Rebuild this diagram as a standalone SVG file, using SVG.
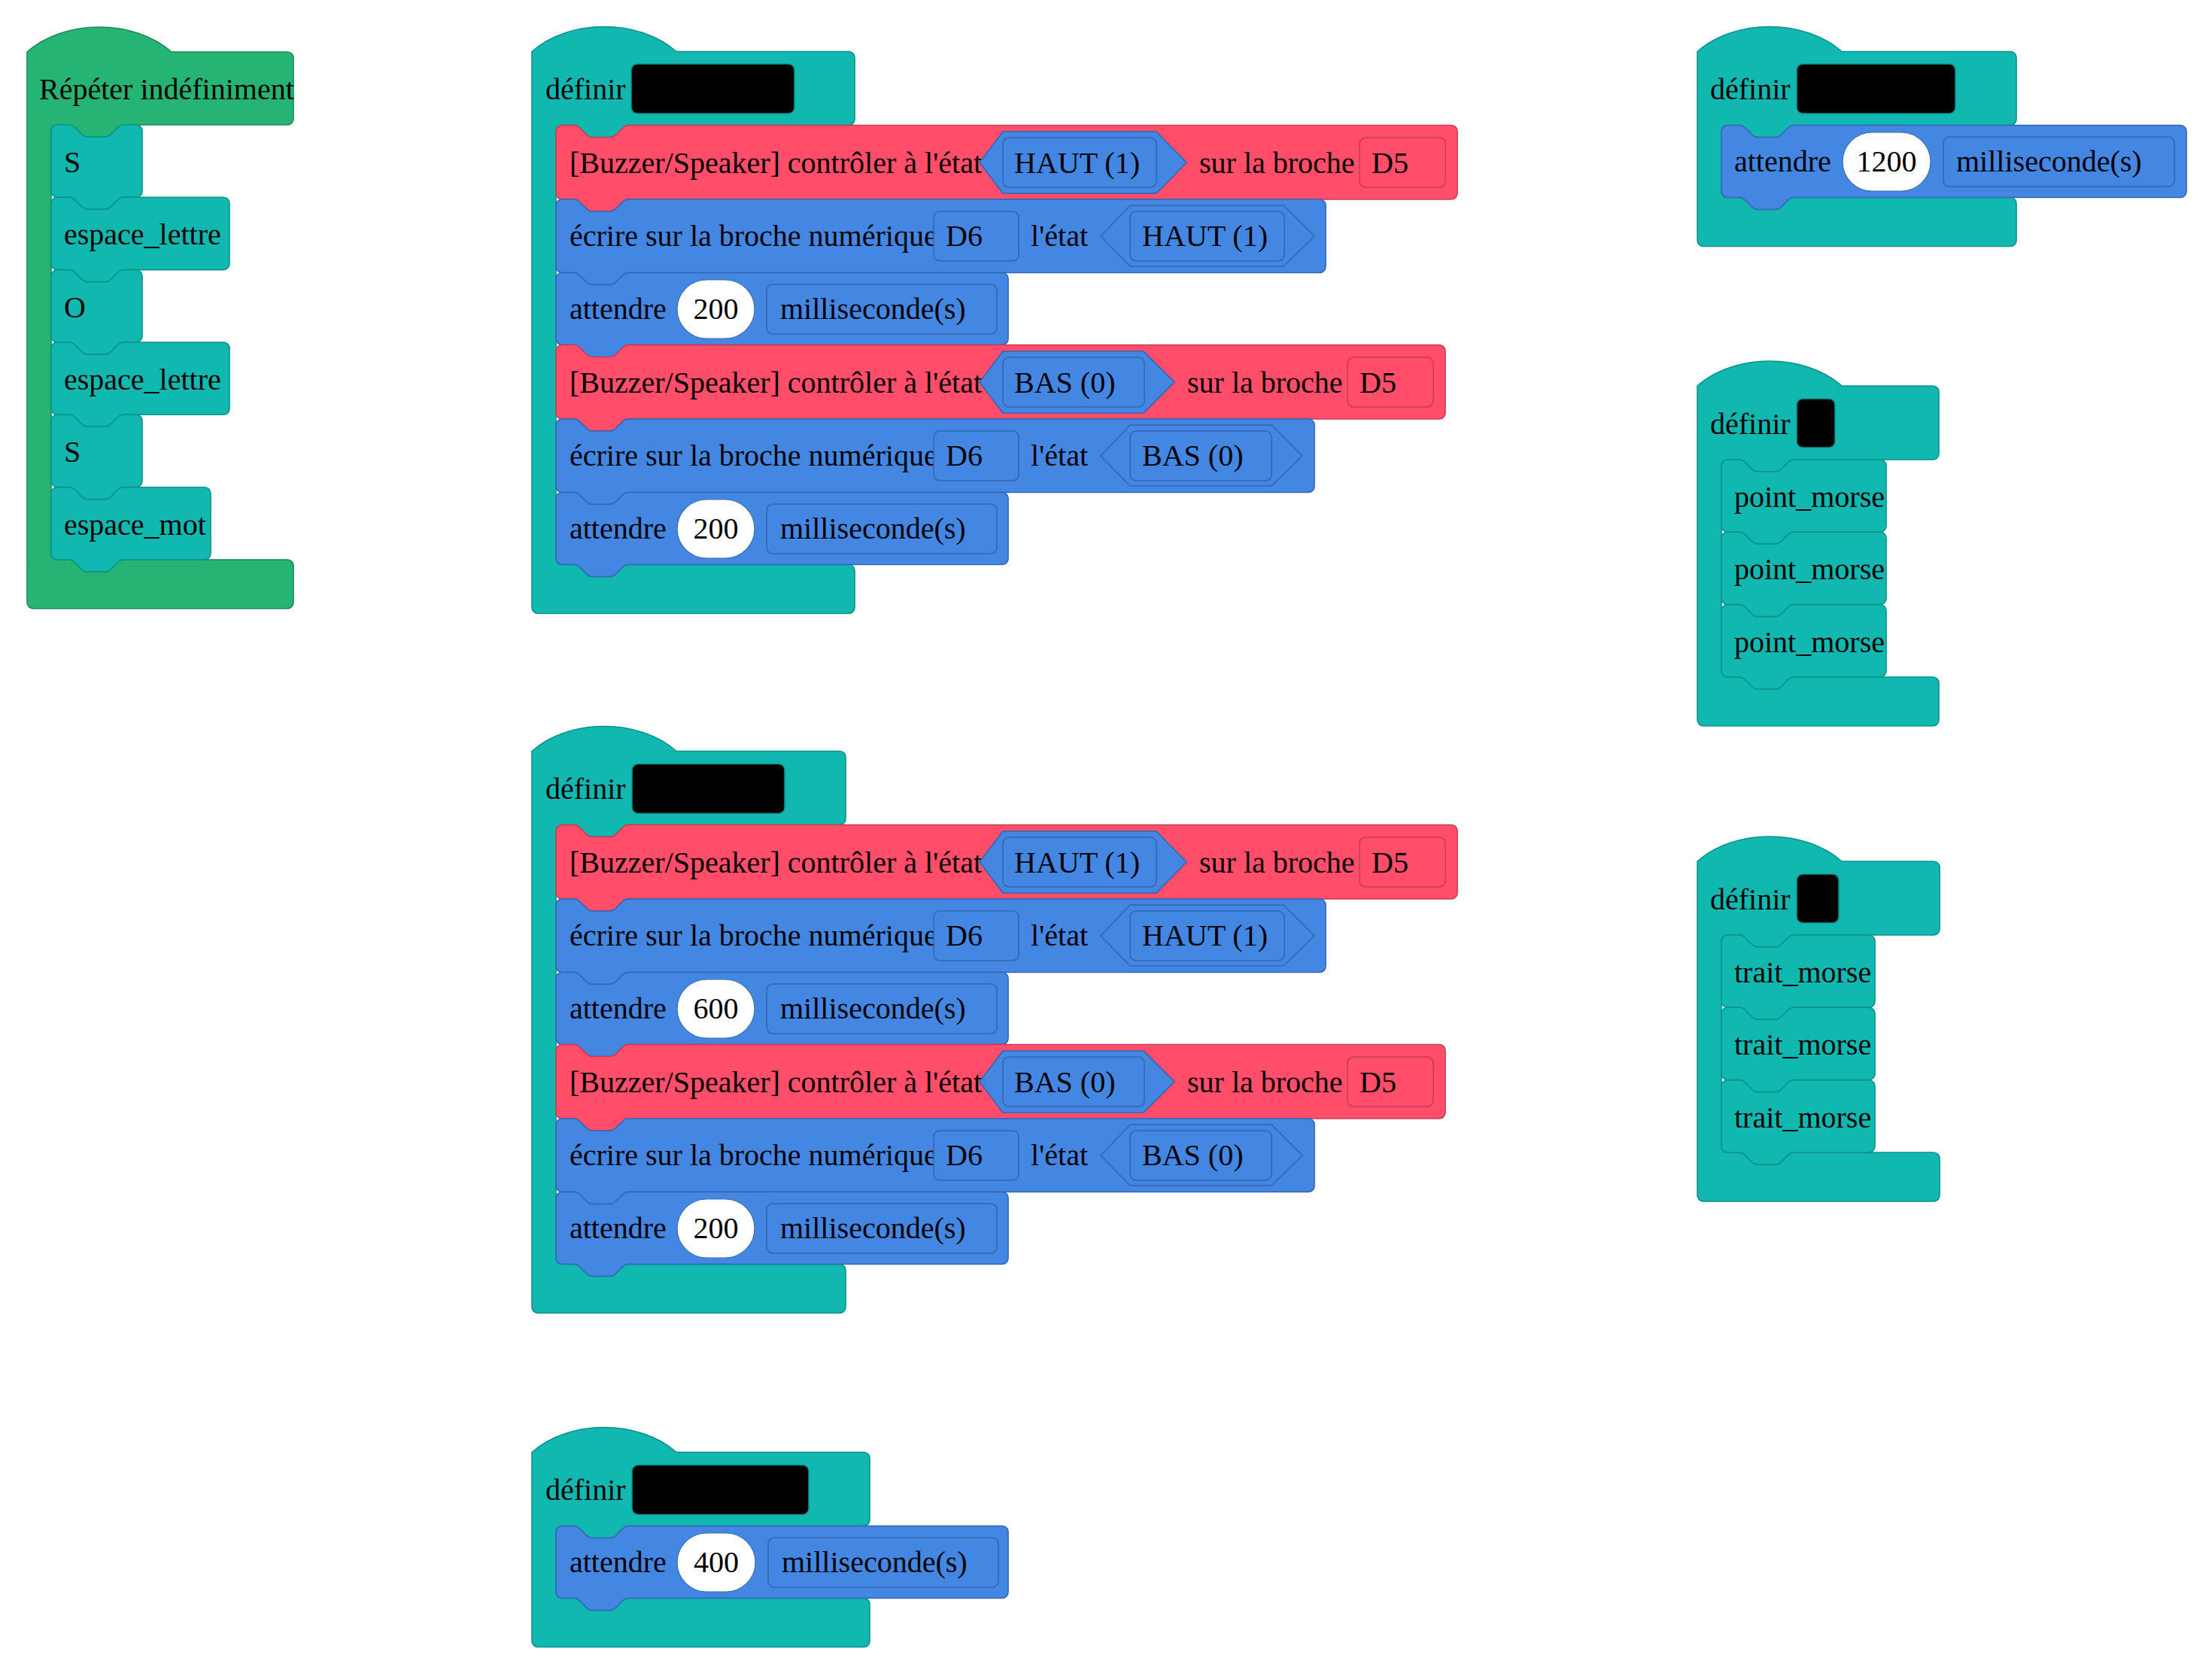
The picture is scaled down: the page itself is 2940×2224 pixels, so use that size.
<svg xmlns="http://www.w3.org/2000/svg" width="2940" height="2224" viewBox="0 0 2940 2224">
<style>
.t{font-family:"Liberation Serif","Times New Roman",serif;font-size:40px;fill:#000}
.m{text-anchor:middle}
.teal{fill:#10b8b0;stroke:#0b928c;stroke-width:1.6}
.green{fill:#25b474;stroke:#1a8c58;stroke-width:1.6}
.red{fill:#ff4d6a;stroke:#c93c54;stroke-width:1.6}
.blue{fill:#4487e2;stroke:#3366b3;stroke-width:1.6}
.fld{fill:#4487e2;stroke:#3366b3;stroke-width:1.6}
.fldr{fill:#ff4d6a;stroke:#c93c54;stroke-width:1.6}
.hexo{fill:none;stroke:#3366b3;stroke-width:1.6}
.ov{fill:#fff;stroke:#3a6fb8;stroke-width:1.2}
.blk{fill:#000;stroke:#0b928c;stroke-width:1.6}
</style>
<rect width="2940" height="2224" fill="#fff"/>
<g id="connectors"/>

<!-- Repeat forever -->
<g id="repeat" transform="translate(36,69)">
<path class="green" d="M0,0c50,-44 142,-44 192,0H346a8,8 0 0 1 8,8V89a8,8 0 0 1 -8,8H128c-4,0 -6,2 -8,4l-8,8c-2,2 -4,4 -8,4h-24c-4,0 -6,-2 -8,-4l-8,-8c-2,-2 -4,-4 -8,-4H40a8,8 0 0 0 -8,8V667a8,8 0 0 0 8,8H56c4,0 6,2 8,4l8,8c2,2 4,4 8,4h24c4,0 6,-2 8,-4l8,-8c2,-2 4,-4 8,-4H346a8,8 0 0 1 8,8V732a8,8 0 0 1 -8,8H8a8,8 0 0 1 -8,-8Z"/>
<text class="t" x="16" y="63">Répéter indéfiniment</text>
</g>
<g id="rep-s1" transform="translate(68,166)">
<path class="teal" d="M0,8a8,8 0 0 1 8,-8H24c4,0 6,2 8,4l8,8c2,2 4,4 8,4h24c4,0 6,-2 8,-4l8,-8c2,-2 4,-4 8,-4H113a8,8 0 0 1 8,8V88.3a8,8 0 0 1 -8,8H96c-4,0 -6,2 -8,4l-8,8c-2,2 -4,4 -8,4h-24c-4,0 -6,-2 -8,-4l-8,-8c-2,-2 -4,-4 -8,-4H8a8,8 0 0 1 -8,-8Z"/>
<text class="t" x="17" y="63">S</text>
</g>
<g id="rep-el1" transform="translate(68,262.3)">
<path class="teal" d="M0,8a8,8 0 0 1 8,-8H24c4,0 6,2 8,4l8,8c2,2 4,4 8,4h24c4,0 6,-2 8,-4l8,-8c2,-2 4,-4 8,-4H229a8,8 0 0 1 8,8V88.3a8,8 0 0 1 -8,8H96c-4,0 -6,2 -8,4l-8,8c-2,2 -4,4 -8,4h-24c-4,0 -6,-2 -8,-4l-8,-8c-2,-2 -4,-4 -8,-4H8a8,8 0 0 1 -8,-8Z"/>
<text class="t" x="17" y="63">espace_lettre</text>
</g>
<g id="rep-o" transform="translate(68,358.7)">
<path class="teal" d="M0,8a8,8 0 0 1 8,-8H24c4,0 6,2 8,4l8,8c2,2 4,4 8,4h24c4,0 6,-2 8,-4l8,-8c2,-2 4,-4 8,-4H113a8,8 0 0 1 8,8V88.3a8,8 0 0 1 -8,8H96c-4,0 -6,2 -8,4l-8,8c-2,2 -4,4 -8,4h-24c-4,0 -6,-2 -8,-4l-8,-8c-2,-2 -4,-4 -8,-4H8a8,8 0 0 1 -8,-8Z"/>
<text class="t" x="17" y="63">O</text>
</g>
<g id="rep-el2" transform="translate(68,455)">
<path class="teal" d="M0,8a8,8 0 0 1 8,-8H24c4,0 6,2 8,4l8,8c2,2 4,4 8,4h24c4,0 6,-2 8,-4l8,-8c2,-2 4,-4 8,-4H229a8,8 0 0 1 8,8V88.3a8,8 0 0 1 -8,8H96c-4,0 -6,2 -8,4l-8,8c-2,2 -4,4 -8,4h-24c-4,0 -6,-2 -8,-4l-8,-8c-2,-2 -4,-4 -8,-4H8a8,8 0 0 1 -8,-8Z"/>
<text class="t" x="17" y="63">espace_lettre</text>
</g>
<g id="rep-s2" transform="translate(68,551.3)">
<path class="teal" d="M0,8a8,8 0 0 1 8,-8H24c4,0 6,2 8,4l8,8c2,2 4,4 8,4h24c4,0 6,-2 8,-4l8,-8c2,-2 4,-4 8,-4H113a8,8 0 0 1 8,8V88.3a8,8 0 0 1 -8,8H96c-4,0 -6,2 -8,4l-8,8c-2,2 -4,4 -8,4h-24c-4,0 -6,-2 -8,-4l-8,-8c-2,-2 -4,-4 -8,-4H8a8,8 0 0 1 -8,-8Z"/>
<text class="t" x="17" y="63">S</text>
</g>
<g id="rep-em" transform="translate(68,647.7)">
<path class="teal" d="M0,8a8,8 0 0 1 8,-8H24c4,0 6,2 8,4l8,8c2,2 4,4 8,4h24c4,0 6,-2 8,-4l8,-8c2,-2 4,-4 8,-4H204a8,8 0 0 1 8,8V88.3a8,8 0 0 1 -8,8H96c-4,0 -6,2 -8,4l-8,8c-2,2 -4,4 -8,4h-24c-4,0 -6,-2 -8,-4l-8,-8c-2,-2 -4,-4 -8,-4H8a8,8 0 0 1 -8,-8Z"/>
<text class="t" x="17" y="63">espace_mot</text>
</g>

<!-- Def block 1 -->
<g id="def1" transform="translate(707,68.5)">
<path class="teal" d="M0,0c50,-44 142,-44 192,0H421a8,8 0 0 1 8,8V90a8,8 0 0 1 -8,8H128c-4,0 -6,2 -8,4l-8,8c-2,2 -4,4 -8,4h-24c-4,0 -6,-2 -8,-4l-8,-8c-2,-2 -4,-4 -8,-4H40a8,8 0 0 0 -8,8V674a8,8 0 0 0 8,8H56c4,0 6,2 8,4l8,8c2,2 4,4 8,4h24c4,0 6,-2 8,-4l8,-8c2,-2 4,-4 8,-4H421a8,8 0 0 1 8,8V739a8,8 0 0 1 -8,8H8a8,8 0 0 1 -8,-8Z"/>
<text class="t" x="18" y="63.5">définir</text>
<rect class="blk" x="132" y="16.5" width="217" height="66" rx="8"/>
</g>
<g id="d1-buz1" transform="translate(739,166.5)">
<path class="red" d="M0,8a8,8 0 0 1 8,-8H24c4,0 6,2 8,4l8,8c2,2 4,4 8,4h24c4,0 6,-2 8,-4l8,-8c2,-2 4,-4 8,-4H1190a8,8 0 0 1 8,8V90.5a8,8 0 0 1 -8,8H96c-4,0 -6,2 -8,4l-8,8c-2,2 -4,4 -8,4h-24c-4,0 -6,-2 -8,-4l-8,-8c-2,-2 -4,-4 -8,-4H8a8,8 0 0 1 -8,-8Z"/>
<text class="t" x="18" y="63.5">[Buzzer/Speaker] contrôler à l'état</text>
<polygon class="fld" points="563,49.5 594,8.5 798,8.5 838,49.5 798,90.5 594,90.5"/>
<rect class="fld" x="594" y="16.5" width="204" height="66" rx="8"/>
<text class="t" x="609" y="63.5">HAUT (1)</text>
<text class="t" x="855" y="63.5">sur la broche</text>
<rect class="fldr" x="1068" y="16.5" width="114" height="66" rx="8"/>
<text class="t" x="1084" y="63.5">D5</text>
</g>
<g id="d1-ecr1" transform="translate(739,265)">
<path class="blue" d="M0,8a8,8 0 0 1 8,-8H24c4,0 6,2 8,4l8,8c2,2 4,4 8,4h24c4,0 6,-2 8,-4l8,-8c2,-2 4,-4 8,-4H1015a8,8 0 0 1 8,8V89.5a8,8 0 0 1 -8,8H96c-4,0 -6,2 -8,4l-8,8c-2,2 -4,4 -8,4h-24c-4,0 -6,-2 -8,-4l-8,-8c-2,-2 -4,-4 -8,-4H8a8,8 0 0 1 -8,-8Z"/>
<text class="t" x="18" y="62">écrire sur la broche numérique</text>
<rect class="fld" x="502" y="16" width="113" height="66" rx="8"/>
<text class="t" x="518" y="62">D6</text>
<text class="t" x="631" y="62">l'état</text>
<polygon class="hexo" points="724,49 763,8 967,8 1008,49 967,89 763,89"/>
<rect class="fld" x="763" y="16" width="205" height="66" rx="8"/>
<text class="t" x="779" y="62">HAUT (1)</text>
</g>
<g id="d1-att1" transform="translate(739,362.5)">
<path class="blue" d="M0,8a8,8 0 0 1 8,-8H24c4,0 6,2 8,4l8,8c2,2 4,4 8,4h24c4,0 6,-2 8,-4l8,-8c2,-2 4,-4 8,-4H593a8,8 0 0 1 8,8V88a8,8 0 0 1 -8,8H96c-4,0 -6,2 -8,4l-8,8c-2,2 -4,4 -8,4h-24c-4,0 -6,-2 -8,-4l-8,-8c-2,-2 -4,-4 -8,-4H8a8,8 0 0 1 -8,-8Z"/>
<text class="t" x="18" y="61.5">attendre</text>
<rect class="ov" x="161" y="9.5" width="103" height="78" rx="39"/>
<text class="t m" x="212.5" y="61.5">200</text>
<rect class="fld" x="280" y="15.5" width="306" height="66" rx="8"/>
<text class="t" x="298" y="61.5">milliseconde(s)</text>
</g>
<g id="d1-buz2" transform="translate(739,458.5)">
<path class="red" d="M0,8a8,8 0 0 1 8,-8H24c4,0 6,2 8,4l8,8c2,2 4,4 8,4h24c4,0 6,-2 8,-4l8,-8c2,-2 4,-4 8,-4H1174a8,8 0 0 1 8,8V90.5a8,8 0 0 1 -8,8H96c-4,0 -6,2 -8,4l-8,8c-2,2 -4,4 -8,4h-24c-4,0 -6,-2 -8,-4l-8,-8c-2,-2 -4,-4 -8,-4H8a8,8 0 0 1 -8,-8Z"/>
<text class="t" x="18" y="63.5">[Buzzer/Speaker] contrôler à l'état</text>
<polygon class="fld" points="563,49.5 594,8.5 781,8.5 822,49.5 781,90.5 594,90.5"/>
<rect class="fld" x="594" y="16.5" width="188" height="66" rx="8"/>
<text class="t" x="609" y="63.5">BAS (0)</text>
<text class="t" x="839" y="63.5">sur la broche</text>
<rect class="fldr" x="1052" y="16.5" width="114" height="66" rx="8"/>
<text class="t" x="1068" y="63.5">D5</text>
</g>
<g id="d1-ecr2" transform="translate(739,557)">
<path class="blue" d="M0,8a8,8 0 0 1 8,-8H24c4,0 6,2 8,4l8,8c2,2 4,4 8,4h24c4,0 6,-2 8,-4l8,-8c2,-2 4,-4 8,-4H1000a8,8 0 0 1 8,8V89.5a8,8 0 0 1 -8,8H96c-4,0 -6,2 -8,4l-8,8c-2,2 -4,4 -8,4h-24c-4,0 -6,-2 -8,-4l-8,-8c-2,-2 -4,-4 -8,-4H8a8,8 0 0 1 -8,-8Z"/>
<text class="t" x="18" y="62">écrire sur la broche numérique</text>
<rect class="fld" x="502" y="16" width="113" height="66" rx="8"/>
<text class="t" x="518" y="62">D6</text>
<text class="t" x="631" y="62">l'état</text>
<polygon class="hexo" points="724,49 763,8 951,8 992,49 951,89 763,89"/>
<rect class="fld" x="763" y="16" width="188" height="66" rx="8"/>
<text class="t" x="779" y="62">BAS (0)</text>
</g>
<g id="d1-att2" transform="translate(739,654.5)">
<path class="blue" d="M0,8a8,8 0 0 1 8,-8H24c4,0 6,2 8,4l8,8c2,2 4,4 8,4h24c4,0 6,-2 8,-4l8,-8c2,-2 4,-4 8,-4H593a8,8 0 0 1 8,8V88a8,8 0 0 1 -8,8H96c-4,0 -6,2 -8,4l-8,8c-2,2 -4,4 -8,4h-24c-4,0 -6,-2 -8,-4l-8,-8c-2,-2 -4,-4 -8,-4H8a8,8 0 0 1 -8,-8Z"/>
<text class="t" x="18" y="61.5">attendre</text>
<rect class="ov" x="161" y="9.5" width="103" height="78" rx="39"/>
<text class="t m" x="212.5" y="61.5">200</text>
<rect class="fld" x="280" y="15.5" width="306" height="66" rx="8"/>
<text class="t" x="298" y="61.5">milliseconde(s)</text>
</g>

<!-- Def block 2 -->
<g id="def2" transform="translate(707,998.5)">
<path class="teal" d="M0,0c50,-44 142,-44 192,0H409a8,8 0 0 1 8,8V90a8,8 0 0 1 -8,8H128c-4,0 -6,2 -8,4l-8,8c-2,2 -4,4 -8,4h-24c-4,0 -6,-2 -8,-4l-8,-8c-2,-2 -4,-4 -8,-4H40a8,8 0 0 0 -8,8V674a8,8 0 0 0 8,8H56c4,0 6,2 8,4l8,8c2,2 4,4 8,4h24c4,0 6,-2 8,-4l8,-8c2,-2 4,-4 8,-4H409a8,8 0 0 1 8,8V739a8,8 0 0 1 -8,8H8a8,8 0 0 1 -8,-8Z"/>
<text class="t" x="18" y="63.5">définir</text>
<rect class="blk" x="133" y="17" width="203" height="66" rx="8"/>
</g>
<g id="d2-buz1" transform="translate(739,1096.5)">
<path class="red" d="M0,8a8,8 0 0 1 8,-8H24c4,0 6,2 8,4l8,8c2,2 4,4 8,4h24c4,0 6,-2 8,-4l8,-8c2,-2 4,-4 8,-4H1190a8,8 0 0 1 8,8V90.5a8,8 0 0 1 -8,8H96c-4,0 -6,2 -8,4l-8,8c-2,2 -4,4 -8,4h-24c-4,0 -6,-2 -8,-4l-8,-8c-2,-2 -4,-4 -8,-4H8a8,8 0 0 1 -8,-8Z"/>
<text class="t" x="18" y="63.5">[Buzzer/Speaker] contrôler à l'état</text>
<polygon class="fld" points="563,49.5 594,8.5 798,8.5 838,49.5 798,90.5 594,90.5"/>
<rect class="fld" x="594" y="16.5" width="204" height="66" rx="8"/>
<text class="t" x="609" y="63.5">HAUT (1)</text>
<text class="t" x="855" y="63.5">sur la broche</text>
<rect class="fldr" x="1068" y="16.5" width="114" height="66" rx="8"/>
<text class="t" x="1084" y="63.5">D5</text>
</g>
<g id="d2-ecr1" transform="translate(739,1195)">
<path class="blue" d="M0,8a8,8 0 0 1 8,-8H24c4,0 6,2 8,4l8,8c2,2 4,4 8,4h24c4,0 6,-2 8,-4l8,-8c2,-2 4,-4 8,-4H1015a8,8 0 0 1 8,8V89.5a8,8 0 0 1 -8,8H96c-4,0 -6,2 -8,4l-8,8c-2,2 -4,4 -8,4h-24c-4,0 -6,-2 -8,-4l-8,-8c-2,-2 -4,-4 -8,-4H8a8,8 0 0 1 -8,-8Z"/>
<text class="t" x="18" y="62">écrire sur la broche numérique</text>
<rect class="fld" x="502" y="16" width="113" height="66" rx="8"/>
<text class="t" x="518" y="62">D6</text>
<text class="t" x="631" y="62">l'état</text>
<polygon class="hexo" points="724,49 763,8 967,8 1008,49 967,89 763,89"/>
<rect class="fld" x="763" y="16" width="205" height="66" rx="8"/>
<text class="t" x="779" y="62">HAUT (1)</text>
</g>
<g id="d2-att1" transform="translate(739,1292.5)">
<path class="blue" d="M0,8a8,8 0 0 1 8,-8H24c4,0 6,2 8,4l8,8c2,2 4,4 8,4h24c4,0 6,-2 8,-4l8,-8c2,-2 4,-4 8,-4H593a8,8 0 0 1 8,8V88a8,8 0 0 1 -8,8H96c-4,0 -6,2 -8,4l-8,8c-2,2 -4,4 -8,4h-24c-4,0 -6,-2 -8,-4l-8,-8c-2,-2 -4,-4 -8,-4H8a8,8 0 0 1 -8,-8Z"/>
<text class="t" x="18" y="61.5">attendre</text>
<rect class="ov" x="161" y="9.5" width="103" height="78" rx="39"/>
<text class="t m" x="212.5" y="61.5">600</text>
<rect class="fld" x="280" y="15.5" width="306" height="66" rx="8"/>
<text class="t" x="298" y="61.5">milliseconde(s)</text>
</g>
<g id="d2-buz2" transform="translate(739,1388.5)">
<path class="red" d="M0,8a8,8 0 0 1 8,-8H24c4,0 6,2 8,4l8,8c2,2 4,4 8,4h24c4,0 6,-2 8,-4l8,-8c2,-2 4,-4 8,-4H1174a8,8 0 0 1 8,8V90.5a8,8 0 0 1 -8,8H96c-4,0 -6,2 -8,4l-8,8c-2,2 -4,4 -8,4h-24c-4,0 -6,-2 -8,-4l-8,-8c-2,-2 -4,-4 -8,-4H8a8,8 0 0 1 -8,-8Z"/>
<text class="t" x="18" y="63.5">[Buzzer/Speaker] contrôler à l'état</text>
<polygon class="fld" points="563,49.5 594,8.5 781,8.5 822,49.5 781,90.5 594,90.5"/>
<rect class="fld" x="594" y="16.5" width="188" height="66" rx="8"/>
<text class="t" x="609" y="63.5">BAS (0)</text>
<text class="t" x="839" y="63.5">sur la broche</text>
<rect class="fldr" x="1052" y="16.5" width="114" height="66" rx="8"/>
<text class="t" x="1068" y="63.5">D5</text>
</g>
<g id="d2-ecr2" transform="translate(739,1487)">
<path class="blue" d="M0,8a8,8 0 0 1 8,-8H24c4,0 6,2 8,4l8,8c2,2 4,4 8,4h24c4,0 6,-2 8,-4l8,-8c2,-2 4,-4 8,-4H1000a8,8 0 0 1 8,8V89.5a8,8 0 0 1 -8,8H96c-4,0 -6,2 -8,4l-8,8c-2,2 -4,4 -8,4h-24c-4,0 -6,-2 -8,-4l-8,-8c-2,-2 -4,-4 -8,-4H8a8,8 0 0 1 -8,-8Z"/>
<text class="t" x="18" y="62">écrire sur la broche numérique</text>
<rect class="fld" x="502" y="16" width="113" height="66" rx="8"/>
<text class="t" x="518" y="62">D6</text>
<text class="t" x="631" y="62">l'état</text>
<polygon class="hexo" points="724,49 763,8 951,8 992,49 951,89 763,89"/>
<rect class="fld" x="763" y="16" width="188" height="66" rx="8"/>
<text class="t" x="779" y="62">BAS (0)</text>
</g>
<g id="d2-att2" transform="translate(739,1584.5)">
<path class="blue" d="M0,8a8,8 0 0 1 8,-8H24c4,0 6,2 8,4l8,8c2,2 4,4 8,4h24c4,0 6,-2 8,-4l8,-8c2,-2 4,-4 8,-4H593a8,8 0 0 1 8,8V88a8,8 0 0 1 -8,8H96c-4,0 -6,2 -8,4l-8,8c-2,2 -4,4 -8,4h-24c-4,0 -6,-2 -8,-4l-8,-8c-2,-2 -4,-4 -8,-4H8a8,8 0 0 1 -8,-8Z"/>
<text class="t" x="18" y="61.5">attendre</text>
<rect class="ov" x="161" y="9.5" width="103" height="78" rx="39"/>
<text class="t m" x="212.5" y="61.5">200</text>
<rect class="fld" x="280" y="15.5" width="306" height="66" rx="8"/>
<text class="t" x="298" y="61.5">milliseconde(s)</text>
</g>

<!-- Def block 3 -->
<g id="def3" transform="translate(707,1930.5)">
<path class="teal" d="M0,0c50,-44 142,-44 192,0H441a8,8 0 0 1 8,8V90a8,8 0 0 1 -8,8H128c-4,0 -6,2 -8,4l-8,8c-2,2 -4,4 -8,4h-24c-4,0 -6,-2 -8,-4l-8,-8c-2,-2 -4,-4 -8,-4H40a8,8 0 0 0 -8,8V186a8,8 0 0 0 8,8H56c4,0 6,2 8,4l8,8c2,2 4,4 8,4h24c4,0 6,-2 8,-4l8,-8c2,-2 4,-4 8,-4H441a8,8 0 0 1 8,8V251a8,8 0 0 1 -8,8H8a8,8 0 0 1 -8,-8Z"/>
<text class="t" x="18" y="63.5">définir</text>
<rect class="blk" x="133" y="17" width="235" height="66" rx="8"/>
</g>
<g id="d3-att" transform="translate(739,2028.5)">
<path class="blue" d="M0,8a8,8 0 0 1 8,-8H24c4,0 6,2 8,4l8,8c2,2 4,4 8,4h24c4,0 6,-2 8,-4l8,-8c2,-2 4,-4 8,-4H593a8,8 0 0 1 8,8V88a8,8 0 0 1 -8,8H96c-4,0 -6,2 -8,4l-8,8c-2,2 -4,4 -8,4h-24c-4,0 -6,-2 -8,-4l-8,-8c-2,-2 -4,-4 -8,-4H8a8,8 0 0 1 -8,-8Z"/>
<text class="t" x="18" y="61.5">attendre</text>
<rect class="ov" x="161" y="9.5" width="104" height="78" rx="39"/>
<text class="t m" x="213" y="61.5">400</text>
<rect class="fld" x="282" y="15.5" width="306" height="66" rx="8"/>
<text class="t" x="300" y="61.5">milliseconde(s)</text>
</g>

<!-- Def block 4 -->
<g id="def4" transform="translate(2256,68.5)">
<path class="teal" d="M0,0c50,-44 142,-44 192,0H416a8,8 0 0 1 8,8V90a8,8 0 0 1 -8,8H128c-4,0 -6,2 -8,4l-8,8c-2,2 -4,4 -8,4h-24c-4,0 -6,-2 -8,-4l-8,-8c-2,-2 -4,-4 -8,-4H40a8,8 0 0 0 -8,8V186a8,8 0 0 0 8,8H56c4,0 6,2 8,4l8,8c2,2 4,4 8,4h24c4,0 6,-2 8,-4l8,-8c2,-2 4,-4 8,-4H416a8,8 0 0 1 8,8V251a8,8 0 0 1 -8,8H8a8,8 0 0 1 -8,-8Z"/>
<text class="t" x="17" y="63.5">définir</text>
<rect class="blk" x="132" y="16.5" width="211" height="66" rx="8"/>
</g>
<g id="d4-att" transform="translate(2288,166.5)">
<path class="blue" d="M0,8a8,8 0 0 1 8,-8H24c4,0 6,2 8,4l8,8c2,2 4,4 8,4h24c4,0 6,-2 8,-4l8,-8c2,-2 4,-4 8,-4H610a8,8 0 0 1 8,8V88a8,8 0 0 1 -8,8H96c-4,0 -6,2 -8,4l-8,8c-2,2 -4,4 -8,4h-24c-4,0 -6,-2 -8,-4l-8,-8c-2,-2 -4,-4 -8,-4H8a8,8 0 0 1 -8,-8Z"/>
<text class="t" x="17" y="61.5">attendre</text>
<rect class="ov" x="161" y="9.5" width="117" height="78" rx="39"/>
<text class="t m" x="219.5" y="61.5">1200</text>
<rect class="fld" x="295" y="15.5" width="307" height="66" rx="8"/>
<text class="t" x="312" y="61.5">milliseconde(s)</text>
</g>

<!-- Def block 5 -->
<g id="def5" transform="translate(2256,513)">
<path class="teal" d="M0,0c50,-44 142,-44 192,0H313a8,8 0 0 1 8,8V90a8,8 0 0 1 -8,8H128c-4,0 -6,2 -8,4l-8,8c-2,2 -4,4 -8,4h-24c-4,0 -6,-2 -8,-4l-8,-8c-2,-2 -4,-4 -8,-4H40a8,8 0 0 0 -8,8V379a8,8 0 0 0 8,8H56c4,0 6,2 8,4l8,8c2,2 4,4 8,4h24c4,0 6,-2 8,-4l8,-8c2,-2 4,-4 8,-4H313a8,8 0 0 1 8,8V444a8,8 0 0 1 -8,8H8a8,8 0 0 1 -8,-8Z"/>
<text class="t" x="17" y="63.5">définir</text>
<rect class="blk" x="132" y="17" width="51" height="65" rx="8"/>
</g>
<g id="d5-p1" transform="translate(2288,611)">
<path class="teal" d="M0,8a8,8 0 0 1 8,-8H24c4,0 6,2 8,4l8,8c2,2 4,4 8,4h24c4,0 6,-2 8,-4l8,-8c2,-2 4,-4 8,-4H211a8,8 0 0 1 8,8V88.3a8,8 0 0 1 -8,8H96c-4,0 -6,2 -8,4l-8,8c-2,2 -4,4 -8,4h-24c-4,0 -6,-2 -8,-4l-8,-8c-2,-2 -4,-4 -8,-4H8a8,8 0 0 1 -8,-8Z"/>
<text class="t" x="17" y="63">point_morse</text>
</g>
<g id="d5-p2" transform="translate(2288,707.3)">
<path class="teal" d="M0,8a8,8 0 0 1 8,-8H24c4,0 6,2 8,4l8,8c2,2 4,4 8,4h24c4,0 6,-2 8,-4l8,-8c2,-2 4,-4 8,-4H211a8,8 0 0 1 8,8V88.3a8,8 0 0 1 -8,8H96c-4,0 -6,2 -8,4l-8,8c-2,2 -4,4 -8,4h-24c-4,0 -6,-2 -8,-4l-8,-8c-2,-2 -4,-4 -8,-4H8a8,8 0 0 1 -8,-8Z"/>
<text class="t" x="17" y="63">point_morse</text>
</g>
<g id="d5-p3" transform="translate(2288,803.7)">
<path class="teal" d="M0,8a8,8 0 0 1 8,-8H24c4,0 6,2 8,4l8,8c2,2 4,4 8,4h24c4,0 6,-2 8,-4l8,-8c2,-2 4,-4 8,-4H211a8,8 0 0 1 8,8V88.3a8,8 0 0 1 -8,8H96c-4,0 -6,2 -8,4l-8,8c-2,2 -4,4 -8,4h-24c-4,0 -6,-2 -8,-4l-8,-8c-2,-2 -4,-4 -8,-4H8a8,8 0 0 1 -8,-8Z"/>
<text class="t" x="17" y="63">point_morse</text>
</g>

<!-- Def block 6 -->
<g id="def6" transform="translate(2256,1145)">
<path class="teal" d="M0,0c50,-44 142,-44 192,0H314a8,8 0 0 1 8,8V90a8,8 0 0 1 -8,8H128c-4,0 -6,2 -8,4l-8,8c-2,2 -4,4 -8,4h-24c-4,0 -6,-2 -8,-4l-8,-8c-2,-2 -4,-4 -8,-4H40a8,8 0 0 0 -8,8V379a8,8 0 0 0 8,8H56c4,0 6,2 8,4l8,8c2,2 4,4 8,4h24c4,0 6,-2 8,-4l8,-8c2,-2 4,-4 8,-4H314a8,8 0 0 1 8,8V444a8,8 0 0 1 -8,8H8a8,8 0 0 1 -8,-8Z"/>
<text class="t" x="17" y="63.5">définir</text>
<rect class="blk" x="132" y="17" width="56" height="65" rx="8"/>
</g>
<g id="d6-t1" transform="translate(2288,1243)">
<path class="teal" d="M0,8a8,8 0 0 1 8,-8H24c4,0 6,2 8,4l8,8c2,2 4,4 8,4h24c4,0 6,-2 8,-4l8,-8c2,-2 4,-4 8,-4H196a8,8 0 0 1 8,8V88.3a8,8 0 0 1 -8,8H96c-4,0 -6,2 -8,4l-8,8c-2,2 -4,4 -8,4h-24c-4,0 -6,-2 -8,-4l-8,-8c-2,-2 -4,-4 -8,-4H8a8,8 0 0 1 -8,-8Z"/>
<text class="t" x="17" y="63">trait_morse</text>
</g>
<g id="d6-t2" transform="translate(2288,1339.3)">
<path class="teal" d="M0,8a8,8 0 0 1 8,-8H24c4,0 6,2 8,4l8,8c2,2 4,4 8,4h24c4,0 6,-2 8,-4l8,-8c2,-2 4,-4 8,-4H196a8,8 0 0 1 8,8V88.3a8,8 0 0 1 -8,8H96c-4,0 -6,2 -8,4l-8,8c-2,2 -4,4 -8,4h-24c-4,0 -6,-2 -8,-4l-8,-8c-2,-2 -4,-4 -8,-4H8a8,8 0 0 1 -8,-8Z"/>
<text class="t" x="17" y="63">trait_morse</text>
</g>
<g id="d6-t3" transform="translate(2288,1435.7)">
<path class="teal" d="M0,8a8,8 0 0 1 8,-8H24c4,0 6,2 8,4l8,8c2,2 4,4 8,4h24c4,0 6,-2 8,-4l8,-8c2,-2 4,-4 8,-4H196a8,8 0 0 1 8,8V88.3a8,8 0 0 1 -8,8H96c-4,0 -6,2 -8,4l-8,8c-2,2 -4,4 -8,4h-24c-4,0 -6,-2 -8,-4l-8,-8c-2,-2 -4,-4 -8,-4H8a8,8 0 0 1 -8,-8Z"/>
<text class="t" x="17" y="63">trait_morse</text>
</g>
</svg>
